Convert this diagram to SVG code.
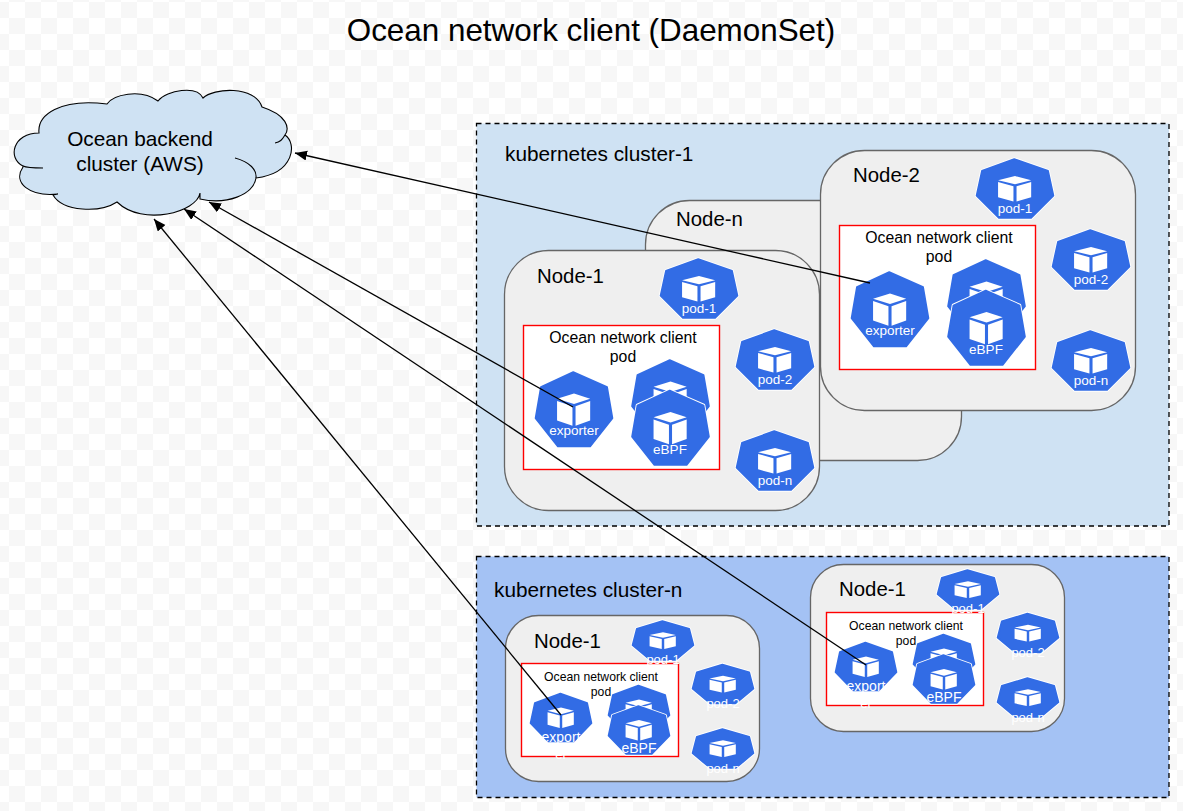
<svg xmlns="http://www.w3.org/2000/svg" width="1183" height="811" viewBox="0 0 1183 811">
<style>
text{font-family:"Liberation Sans",Arial,sans-serif;fill:#000}
.m{text-anchor:middle}
.cluster{stroke:#000;stroke-width:1.3;stroke-dasharray:5 4}
.node{fill:#efefef;stroke:#666;stroke-width:1.3}
.red{fill:#fff;stroke:#f00;stroke-width:1.4}
.nl{font-size:20.4px}
.bt{font-size:15.8px}
.st{font-size:12.2px}
.cl{font-size:20.8px}
.pl{fill:#fff;font-size:13.5px;text-anchor:middle}
.ps{fill:#fff;font-size:13px;text-anchor:middle}
.pw{fill:#fff;font-size:14px;text-anchor:middle}
.conn{fill:none;stroke:#000;stroke-width:1.3;marker-end:url(#a)}
</style>
<defs>
<pattern id="chk" width="32" height="32" patternUnits="userSpaceOnUse" x="9" y="2">
<rect width="32" height="32" fill="#fff"/>
<rect x="16" width="16" height="16" fill="#f7f7f7"/>
<rect y="16" width="16" height="16" fill="#f7f7f7"/>
</pattern>
<marker id="a" markerUnits="userSpaceOnUse" markerWidth="13" markerHeight="11" refX="12" refY="5" orient="auto">
<path d="M0,0L12,5L0,10Z" fill="#000"/>
</marker>
<g id="pod">
<path d="M49,0L93,20L100,62L71,100L29,100L0,62L7,20Z" fill="#326ce5" stroke="#fff" stroke-linejoin="round" vector-effect="non-scaling-stroke" style="stroke-width:3.4px"/>
<path d="M49,0L93,20L100,62L71,100L29,100L0,62L7,20Z" fill="#326ce5" stroke="#326ce5" stroke-linejoin="round" vector-effect="non-scaling-stroke" style="stroke-width:1.6px"/>
<path d="M50,29L71,36L50,43L28,36Z" fill="#fff"/>
<path d="M28,39L48,46V72L28,65Z" fill="#fff"/>
<path d="M52,46L71,39V65L52,72Z" fill="#fff"/>
</g>
</defs>
<rect id="background" width="1183" height="811" fill="url(#chk)"/>
<text id="title" x="591" y="41" class="m" font-size="31.4">Ocean network client (DaemonSet)</text>

<g id="backend">
<path d="M39,133C37,115 60,98 107,104C113,95 140,88 158,101C167,90 197,85 203,98C213,88 255,85 262,107C287,115 290,128 285,135C297,143 295,173 256,178C253,195 227,205 200,199L200,193C197,212 143,227 117,202C100,213 63,212 53,195L58,194C30,197 12,183 23,167L23,166C7,158 13,133 39,133Z" fill="#cfe2f3" stroke="#000" stroke-width="1.1"/>
<path d="M285,135C282,140 280,142 275,143M235,158C250,162 257,170 256,178M43,168C33,168 27,168 23,166" fill="none" stroke="#000" stroke-width="1.1"/>
<text x="140" y="146" class="m cl">Ocean backend</text>
<text x="140" y="171" class="m cl">cluster (AWS)</text>
</g>

<g id="cluster-1">
<rect x="476.500" y="123.500" width="692.500" height="402.500" fill="#cfe2f3" class="cluster"/>
<text x="505" y="161" class="cl">kubernetes cluster-1</text>
</g>
<g id="cluster-n">
<rect x="476.500" y="556.500" width="692.500" height="241" fill="#a4c2f4" class="cluster"/>
<text x="494" y="597" class="cl">kubernetes cluster-n</text>
</g>

<g id="node-n">
<rect x="645.500" y="200.500" width="316" height="260" rx="44" class="node"/>
<text x="676" y="226" class="nl">Node-n</text>
</g>

<g id="node-2" transform="translate(316,-100)">
<rect x="504.500" y="250.500" width="315" height="260" rx="44" class="node"/>
<text x="537" y="282" class="nl">Node-2</text>
<rect x="523.500" y="325.500" width="196" height="144" class="red"/>
<text x="623" y="343" class="m bt">Ocean network client</text>
<text x="623" y="362" class="m bt">pod</text>
<use href="#pod" transform="translate(660.500,259) scale(.77,.59)"/><text x="699" y="313" class="pl">pod-1</text>
<use href="#pod" transform="translate(736.500,330) scale(.77,.59)"/><text x="775" y="384" class="pl">pod-2</text>
<use href="#pod" transform="translate(736.500,431) scale(.77,.59)"/><text x="775" y="485" class="pl">pod-n</text>
<use href="#pod" transform="translate(535.500,372) scale(.77,.745)"/><text x="574" y="435" class="pl">exporter</text>
<use href="#pod" transform="translate(632,360) scale(.77,.745)"/>
<use href="#pod" transform="translate(632,390.500) scale(.77,.745)"/><text x="670" y="454" class="pl">eBPF</text>
</g>

<g id="node-1-a">
<rect x="504.500" y="250.500" width="315" height="260" rx="44" class="node"/>
<text x="537" y="283" class="nl">Node-1</text>
<rect x="523.500" y="325.500" width="196" height="144" class="red"/>
<text x="623" y="343" class="m bt">Ocean network client</text>
<text x="623" y="362" class="m bt">pod</text>
<use href="#pod" transform="translate(660.500,259) scale(.77,.59)"/><text x="699" y="313" class="pl">pod-1</text>
<use href="#pod" transform="translate(736.500,330) scale(.77,.59)"/><text x="775" y="384" class="pl">pod-2</text>
<use href="#pod" transform="translate(736.500,431) scale(.77,.59)"/><text x="775" y="485" class="pl">pod-n</text>
<use href="#pod" transform="translate(535.500,372) scale(.77,.745)"/><text x="574" y="435" class="pl">exporter</text>
<use href="#pod" transform="translate(632,360) scale(.77,.745)"/>
<use href="#pod" transform="translate(632,390.500) scale(.77,.745)"/><text x="670" y="454" class="pl">eBPF</text>
</g>

<g id="node-1-c">
<rect x="810.500" y="564.500" width="254" height="167" rx="33" class="node"/>
<text x="839" y="596" class="nl">Node-1</text>
<rect x="826.500" y="612.500" width="157" height="93" class="red"/>
<text x="906" y="630" class="m st">Ocean network client</text>
<text x="906" y="645" class="m st">pod</text>
<use href="#pod" transform="translate(937.500,570) scale(.61,.39)"/><text x="968" y="613" class="ps">pod-1</text>
<use href="#pod" transform="translate(997.500,613.500) scale(.61,.39)"/><text x="1028" y="657" class="ps">pod-2</text>
<use href="#pod" transform="translate(997.500,678) scale(.61,.39)"/><text x="1028" y="722" class="ps">pod-n</text>
<use href="#pod" transform="translate(835.500,642.500) scale(.61,.48)"/><text x="866" y="691" class="pw">export</text><text x="866" y="708" class="ps">er</text>
<use href="#pod" transform="translate(913.500,634.500) scale(.61,.48)"/>
<use href="#pod" transform="translate(913.500,655) scale(.61,.48)"/><text x="944" y="702" class="pw">eBPF</text>
</g>

<g id="node-1-b">
<rect x="505.500" y="615.500" width="254" height="166" rx="33" class="node"/>
<text x="534" y="648" class="nl">Node-1</text>
<rect x="521.500" y="663.500" width="157" height="93" class="red"/>
<text x="601" y="681" class="m st">Ocean network client</text>
<text x="601" y="696" class="m st">pod</text>
<use href="#pod" transform="translate(632.500,621) scale(.61,.39)"/><text x="663" y="664" class="ps">pod-1</text>
<use href="#pod" transform="translate(692.500,664.500) scale(.61,.39)"/><text x="723" y="708" class="ps">pod-2</text>
<use href="#pod" transform="translate(692.500,729) scale(.61,.39)"/><text x="723" y="773" class="ps">pod-n</text>
<use href="#pod" transform="translate(530.500,693.500) scale(.61,.48)"/><text x="561" y="742" class="pw">export</text><text x="561" y="759" class="ps">er</text>
<use href="#pod" transform="translate(608.500,685.500) scale(.61,.48)"/>
<use href="#pod" transform="translate(608.500,706) scale(.61,.48)"/><text x="639" y="753" class="pw">eBPF</text>
</g>

<g id="connectors">
<path class="conn" d="M870,283L295,153"/>
<path class="conn" d="M573,407L209,202"/>
<path class="conn" d="M866,665L184,209"/>
<path class="conn" d="M561,715L154,219"/>
</g>
</svg>
